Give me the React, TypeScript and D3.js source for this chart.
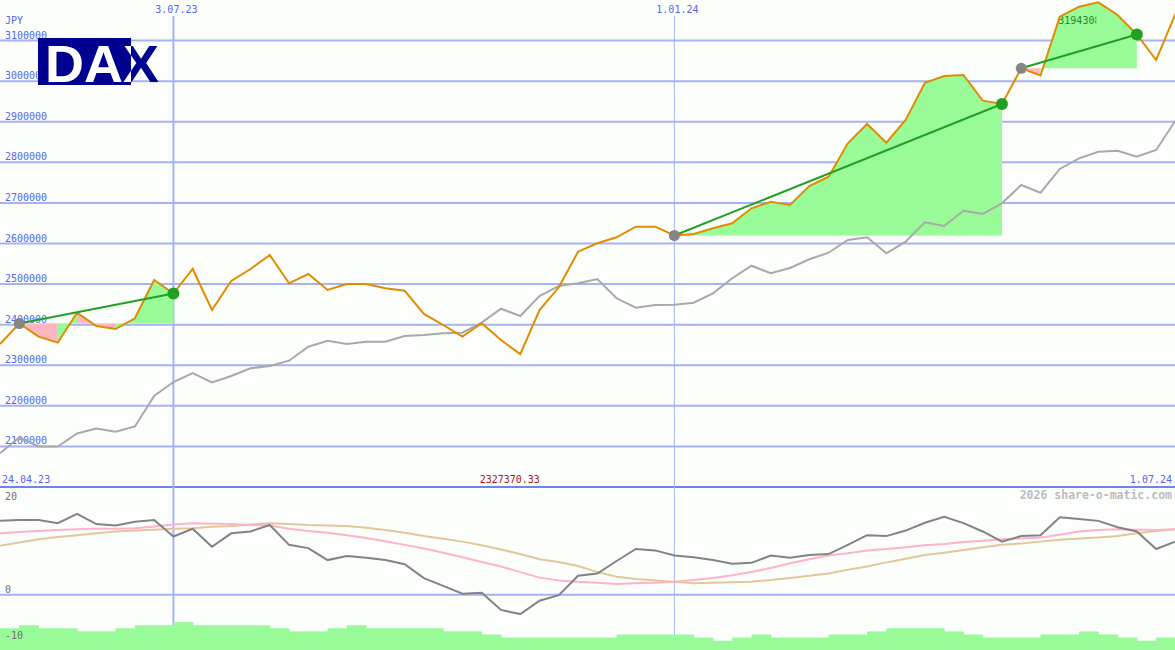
import React from 'react';
import * as d3 from 'd3';

const W = 1175;
const H = 650;

// weekly closing values (JPY)
const price = [
  2352400, 2402900, 2370400, 2355600, 2429500, 2396700, 2389300, 2415700, 2510100, 2476800,
  2537200, 2436100, 2507600, 2537200, 2571700, 2501900, 2524800, 2485400, 2500200, 2500200,
  2489600, 2483700, 2426300, 2399200, 2370400, 2403400, 2362200, 2327370.33, 2436100, 2492100,
  2579800, 2600500, 2615300, 2641400, 2641400, 2619700, 2623400, 2637500, 2649800, 2686700,
  2703000, 2694900, 2741700, 2764600, 2846900, 2894400, 2848400, 2904300, 2996200, 3012700,
  3015200, 2951900, 2943700, 3031700, 3014000, 3158800, 3183500, 3194308, 3163000, 3115000,
  3052100, 3165500,
];

// benchmark (grey line), same scale
const bench = [
  2083100, 2122000, 2099800, 2099800, 2131800, 2144200, 2136300, 2149100, 2224200, 2258700,
  2280900, 2257500, 2273500, 2292500, 2298200, 2311200, 2345700, 2360500, 2352400, 2358000,
  2358000, 2372100, 2374500, 2378700, 2380200, 2404900, 2439300, 2421400, 2470600, 2495300,
  2501900, 2512500, 2465000, 2441800, 2448500, 2449200, 2454100, 2477300, 2514300, 2545300,
  2526600, 2539600, 2561100, 2577300, 2608600, 2615300, 2575900, 2604400, 2652200, 2643100,
  2680800, 2672700, 2699100, 2744100, 2725200, 2783600, 2809900, 2826200, 2828700, 2813900,
  2830400, 2902600,
];

// lower panel indicators
const osc = [
  16.0, 16.2, 16.2, 15.5, 17.5, 15.3, 15.0, 15.8, 16.2, 12.6,
  14.3, 10.4, 13.3, 13.7, 15.1, 10.8, 10.1, 7.5, 8.4, 8.0,
  7.5, 6.6, 3.6, 1.9, 0.2, 0.4, -3.3, -4.2, -1.3, -0.1,
  4.1, 4.6, 7.3, 9.9, 9.6, 8.5, 8.1, 7.5, 6.7, 6.9,
  8.5, 8.0, 8.6, 8.8, 10.8, 12.9, 12.7, 13.9, 15.6, 16.9,
  15.5, 13.7, 11.5, 12.7, 12.9, 16.8, 16.4, 16.0, 14.6, 13.7,
  9.9, 11.5,
];
const sigPink = [
  13.3, 13.6, 13.8, 14.0, 14.2, 14.3, 14.3, 14.4, 14.8, 15.2,
  15.5, 15.4, 15.3, 15.1, 15.0, 14.3, 13.8, 13.4, 12.9, 12.3,
  11.6, 10.8, 10.0, 9.1, 8.1, 7.1, 6.1, 4.9, 3.7, 3.1,
  2.8, 2.6, 2.3, 2.5, 2.6, 2.8, 3.2, 3.6, 4.2, 4.9,
  5.8, 6.8, 7.7, 8.5, 9.0, 9.6, 9.9, 10.3, 10.7, 11.0,
  11.4, 11.7, 12.0, 12.2, 12.4, 13.0, 13.7, 14.0, 14.2, 14.1,
  14.0, 14.2,
];
const sigTan = [
  10.6, 11.3, 12.0, 12.5, 12.9, 13.3, 13.7, 13.9, 14.1, 14.3,
  14.4, 14.7, 14.9, 15.2, 15.5, 15.3, 15.1, 15.0, 14.9, 14.5,
  14.0, 13.4, 12.7, 12.1, 11.5, 10.7, 9.8, 8.8, 7.7, 7.1,
  6.2, 4.9, 3.9, 3.4, 3.1, 2.8, 2.5, 2.6, 2.7, 2.8,
  3.2, 3.6, 4.1, 4.6, 5.4, 6.1, 7.0, 7.8, 8.6, 9.1,
  9.7, 10.3, 10.8, 11.1, 11.5, 11.9, 12.2, 12.4, 12.7, 13.3,
  13.8, 14.2,
];
// weekly volume levels (bottom histogram)
const volume = [
  7, 8, 7, 7, 6, 6, 7, 8, 8, 9,
  8, 8, 8, 8, 7, 6, 6, 7, 8, 7,
  7, 7, 7, 6, 6, 5, 4, 4, 4, 4,
  4, 4, 5, 5, 5, 5, 4, 3, 4, 5,
  4, 4, 4, 5, 5, 6, 7, 7, 7, 6,
  5, 4, 4, 4, 5, 5, 6, 5, 4, 3,
  4,
];

// trend segments (start index, end index)
const segStart = [1, 35, 53];
const segEnd = [9, 52, 59];

const yTicks = [2100000, 2200000, 2300000, 2400000, 2500000, 2600000, 2700000, 2800000, 2900000, 3000000, 3100000];
const vLines = [
  { date: Date.UTC(2023, 6, 3), label: '3.07.23', width: 2 },
  { date: Date.UTC(2024, 0, 1), label: '1.01.24', width: 1 },
];
const lowerTicks = [20, 0];

const START = new Date(Date.UTC(2023, 4, 1));
const END = new Date(Date.UTC(2024, 6, 1));
const dates = d3.utcMonday.range(START, d3.utcDay.offset(END, 1));

const MONO = 'DejaVu Sans Mono, monospace';
const BLUE = '#5565ee';
const GRID = '#a6b2f4';

export default function App() {
  React.useEffect(() => {
    document.body.style.margin = '0';
  }, []);

  const x = d3.scaleUtc().domain([START, END]).range([0, 1175.4]);
  const y = d3.scaleLinear().domain([2000000, 3200000]).range([487, 0]);
  const yl = d3.scaleLinear().domain([0, 20]).range([594.7, 502.4]);
  const yv = d3.scaleLinear().domain([0, 10]).range([650, 619]);

  const xi = (i: number) => x(dates[i]);
  const mainLine = d3.line<number>().x((_, i) => xi(i)).y((d) => y(d));
  const lowLine = d3.line<number>().x((_, i) => xi(i)).y((d) => yl(d));

  // fills: group consecutive weeks with the same colour into one polygon
  const fills: { d: string; c: string }[] = [];
  segStart.forEach((s, k) => {
    const e = segEnd[k];
    const base = price[s];
    let runStart = s;
    let runColor = '';
    const flush = (a: number, b: number, c: string) => {
      const p = d3.path();
      p.moveTo(xi(a), y(base));
      for (let j = a; j <= b; j++) p.lineTo(xi(j), y(price[j]));
      p.lineTo(xi(b), y(base));
      p.closePath();
      fills.push({ d: p.toString(), c });
    };
    for (let i = s; i < e; i++) {
      const c = price[i + 1] >= base ? '#98fb98' : '#ffb6c1';
      if (i === s) {
        runColor = c;
        runStart = s;
      } else if (c !== runColor) {
        flush(runStart, i, runColor);
        runStart = i;
        runColor = c;
      }
    }
    flush(runStart, e, runColor);
  });

  const minIdx = d3.minIndex(price);
  const maxIdx = d3.maxIndex(price);

  return (
    <svg width={W} height={H} style={{ position: 'absolute', left: 0, top: 0, display: 'block' }}>
      <defs>
        <clipPath id="logoIn">
          <rect x={38} y={38} width={93} height={47} />
        </clipPath>
        <clipPath id="logoOut">
          <rect x={131} y={30} width={40} height={62} />
        </clipPath>
        <clipPath id="maxClip">
          <rect x={0} y={0} width={xi(maxIdx) - 2} height={40} />
        </clipPath>
      </defs>
      <rect x={0} y={0} width={W} height={H} fill="#fcfefc" />

      {/* horizontal grid */}
      {yTicks.map((t) => (
        <line key={t} x1={0} x2={W} y1={y(t)} y2={y(t)} stroke={GRID} strokeWidth={2} />
      ))}
      <line x1={0} x2={W} y1={yl(0)} y2={yl(0)} stroke={GRID} strokeWidth={2} />
      <line x1={0} x2={W} y1={487} y2={487} stroke="#7282ea" strokeWidth={2} />

      {/* vertical lines */}
      {vLines.map((v) => (
        <line key={v.label} x1={x(new Date(v.date))} x2={x(new Date(v.date))} y1={16} y2={H} stroke={GRID} strokeWidth={v.width} />
      ))}

      {/* axis labels */}
      <text x={5} y={24} fontFamily={MONO} fontSize={10} fill={BLUE}>JPY</text>
      {yTicks.map((t) => (
        <text key={t} x={5} y={y(t) - 2} fontFamily={MONO} fontSize={10} fill={BLUE}>{d3.format('d')(t)}</text>
      ))}
      {vLines.map((v) => (
        <text key={v.label} x={x(new Date(v.date)) + 3} y={13} textAnchor="middle" fontFamily={MONO} fontSize={10} fill={BLUE}>{v.label}</text>
      ))}
      <text x={2} y={483} fontFamily={MONO} fontSize={10} fill={BLUE}>24.04.23</text>
      <text x={1172} y={483} textAnchor="end" fontFamily={MONO} fontSize={10} fill={BLUE}>1.07.24</text>
      <text x={xi(minIdx) - 10.5} y={483} textAnchor="middle" fontFamily={MONO} fontSize={10} fill="#a81818">{d3.format('.2f')(price[minIdx])}</text>
      <text x={1172} y={499} textAnchor="end" fontFamily={MONO} fontSize={11.5} fontWeight="bold" fill="#bcbcbc">2026 share-o-matic.com</text>

      {/* fills */}
      {fills.map((f, i) => (
        <path key={i} d={f.d} fill={f.c} stroke="none" />
      ))}

      {/* max label */}
      <text x={xi(maxIdx) - 40} y={24} fontFamily={MONO} fontSize={10} fill="#2a8a2a" clipPath="url(#maxClip)">{d3.format('d')(price[maxIdx])}</text>

      {/* lines */}
      <path d={mainLine(bench) || ''} fill="none" stroke="#a9a9a9" strokeWidth={2} />
      <path d={mainLine(price) || ''} fill="none" stroke="#e08c00" strokeWidth={2} />

      {segStart.map((s, k) => (
        <line key={k} x1={xi(s)} y1={y(price[s])} x2={xi(segEnd[k])} y2={y(price[segEnd[k]])} stroke="#22a022" strokeWidth={2} />
      ))}
      {segStart.map((s, k) => (
        <g key={'d' + k}>
          <circle cx={xi(s)} cy={y(price[s])} r={5.5} fill="#858585" />
          <circle cx={xi(segEnd[k])} cy={y(price[segEnd[k]])} r={6} fill="#22a022" />
        </g>
      ))}

      {/* lower panel */}
      {lowerTicks.map((t) => (
        <text key={t} x={5} y={yl(t) - 2} fontFamily={MONO} fontSize={10} fill="#707070">{t}</text>
      ))}
      <path d={lowLine(sigTan) || ''} fill="none" stroke="#e2c898" strokeWidth={2} />
      <path d={lowLine(sigPink) || ''} fill="none" stroke="#ffb2c8" strokeWidth={2} />
      <path d={lowLine(osc) || ''} fill="none" stroke="#838383" strokeWidth={2} />

      {volume.map((v, i) => (
        <rect key={i} x={xi(i)} y={yv(v)} width={xi(i + 1) - xi(i) + 0.5} height={H - yv(v)} fill="#98fb98" />
      ))}
      <text x={5} y={Math.min(yl(-10) - 2, H - 4)} fontFamily={MONO} fontSize={10} fill="#707070">-10</text>

      {/* logo */}
      <rect x={38} y={38} width={93} height={47} fill="#000090" />
      <text x={45} y={82} fontFamily="Liberation Sans, Arial, sans-serif" fontWeight="bold" fontSize={51} textLength={114} lengthAdjust="spacingAndGlyphs" fill="#ffffff" clipPath="url(#logoIn)">DAX</text>
      <text x={45} y={82} fontFamily="Liberation Sans, Arial, sans-serif" fontWeight="bold" fontSize={51} textLength={114} lengthAdjust="spacingAndGlyphs" fill="#000090" clipPath="url(#logoOut)">DAX</text>
    </svg>
  );
}
